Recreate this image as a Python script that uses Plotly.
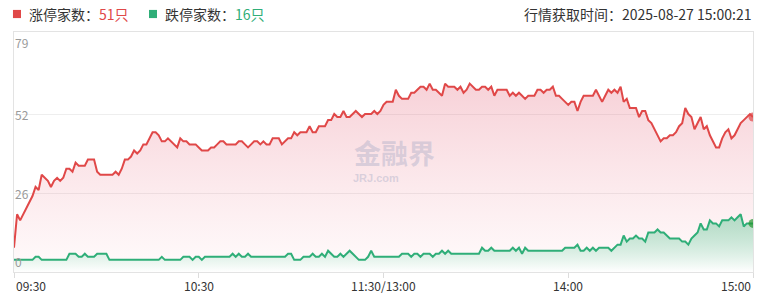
import plotly.graph_objects as go

# minutes since 09:30 (trading minutes, lunch break collapsed)
minutes = list(range(241))

limit_up = [
    8, 19, 17, 19, 21, 23, 25, 28, 27, 32,
    31, 30, 28, 30, 31, 30, 31, 34, 34, 33,
    36, 35, 35, 35, 37, 37, 37, 33, 32, 32,
    32, 32, 32, 33, 32, 34, 37, 37, 38, 40,
    39, 40, 42, 42, 44, 46, 46, 45, 43, 43,
    44, 43, 42, 41, 44, 43, 43, 42, 42, 42,
    41, 40, 40, 40, 41, 41, 42, 43, 43, 42,
    42, 42, 42, 43, 43, 42, 41, 42, 43, 43,
    42, 43, 42, 42, 44, 44, 44, 42, 43, 44,
    44, 46, 45, 46, 46, 46, 48, 46, 46, 48,
    48, 48, 50, 50, 52, 51, 51, 53, 51, 51,
    52, 53, 52, 51, 52, 52, 52, 53, 52, 53,
    55, 56, 56, 56, 60, 58, 57, 57, 57, 59,
    59, 60, 61, 61, 60, 62, 60, 60, 59, 58,
    62, 61, 61, 61, 60, 61, 59, 60, 62, 61,
    60, 60, 61, 61, 60, 61, 58, 60, 60, 60,
    60, 58, 59, 58, 59, 58, 57, 58, 58, 58,
    60, 60, 59, 60, 60, 61, 58, 58, 57, 56,
    55, 56, 56, 53, 56, 58, 58, 58, 58, 60,
    58, 56, 58, 60, 59, 60, 59, 61, 56, 57,
    54, 54, 54, 51, 53, 53, 50, 49, 47, 45,
    43, 44, 44, 45, 45, 46, 48, 49, 54, 52,
    51, 47, 49, 51, 47, 48, 45, 43, 41, 41,
    44, 46, 47, 44, 45, 47, 49, 50, 51, 52,
    51,
]

limit_down = [
    4, 4, 4, 4, 4, 4, 4, 5, 5, 4,
    4, 4, 4, 4, 4, 4, 4, 4, 6, 6,
    6, 5, 5, 6, 5, 5, 5, 6, 6, 6,
    6, 4, 4, 4, 4, 4, 4, 4, 4, 4,
    4, 4, 4, 4, 4, 4, 4, 4, 5, 4,
    4, 4, 4, 4, 4, 5, 5, 5, 4, 5,
    5, 4, 5, 5, 5, 5, 5, 5, 5, 5,
    5, 6, 5, 6, 5, 5, 6, 5, 5, 5,
    5, 5, 5, 5, 5, 5, 5, 5, 5, 6,
    6, 4, 4, 4, 5, 5, 5, 6, 5, 5,
    6, 5, 7, 6, 5, 5, 6, 5, 6, 7,
    6, 5, 4, 4, 4, 5, 7, 5, 5, 5,
    5, 5, 5, 5, 5, 5, 6, 6, 6, 5,
    6, 6, 5, 6, 6, 6, 5, 6, 6, 7,
    6, 7, 6, 6, 6, 6, 6, 6, 6, 6,
    6, 6, 8, 7, 7, 8, 7, 7, 7, 7,
    7, 7, 8, 7, 8, 6, 8, 7, 7, 7,
    7, 7, 7, 7, 7, 7, 7, 7, 7, 8,
    8, 8, 8, 9, 7, 7, 8, 7, 8, 7,
    8, 8, 8, 8, 7, 8, 9, 9, 12, 10,
    11, 11, 12, 11, 11, 10, 13, 13, 13, 14,
    13, 13, 12, 11, 11, 11, 11, 10, 10, 9,
    11, 12, 13, 16, 14, 14, 17, 16, 16, 15,
    17, 17, 17, 18, 17, 18, 19, 15, 16, 16,
    16,
]

x_tickvals = [0, 60, 120, 180, 240]
x_ticktext = ["09:30", "10:30", "11:30/13:00", "14:00", "15:00"]
y_tickvals = [0, 26, 52, 79]
y_ticktext = ["0", "26", "52", "79"]

up_count = 51
down_count = 16
fetch_time = "2025-08-27 15:00:21"

RED = "#e04848"
GREEN = "#2fae78"
FONT = "Noto Sans CJK SC"

n = len(minutes)
end_sizes = [0] * (n - 1) + [9]

fig = go.Figure()
fig.add_trace(go.Scatter(
    x=minutes, y=limit_up, mode="lines+markers",
    line=dict(color=RED, width=2),
    marker=dict(size=end_sizes, color=RED, line=dict(width=0)),
    fill="tozeroy",
    fillgradient=dict(type="vertical",
                      colorscale=[[0, "rgba(240,110,130,0.03)"],
                                  [1, "rgba(224,80,105,0.26)"]]),
    hoverinfo="skip", showlegend=False,
))
fig.add_trace(go.Scatter(
    x=minutes, y=limit_down, mode="lines+markers",
    line=dict(color=GREEN, width=2),
    marker=dict(size=end_sizes, color="#23962f", line=dict(width=0)),
    fill="tozeroy",
    fillgradient=dict(type="vertical",
                      colorscale=[[0, "rgba(255,255,255,0.9)"],
                                  [1, "rgba(120,200,160,0.55)"]]),
    hoverinfo="skip", showlegend=False,
))

annotations = []
# y-axis labels inside plot
for v, t in zip(y_tickvals, y_ticktext):
    if v == max(y_tickvals):
        anchor = "top"
    elif v == min(y_tickvals):
        anchor = "bottom"
    else:
        anchor = "middle"
    annotations.append(dict(x=0, y=v, xref="x", yref="y", text=t, showarrow=False,
                            xanchor="left", yanchor=anchor, xshift=-1,
                            font=dict(family=FONT, size=12, color="#9a9a9a")))
# x-axis labels
for i, (v, t) in enumerate(zip(x_tickvals, x_ticktext)):
    xa = "left" if i == 0 else ("right" if i == len(x_tickvals) - 1 else "center")
    annotations.append(dict(x=v, y=0, xref="x", yref="paper", text=t, showarrow=False,
                            xanchor=xa, yanchor="middle", yshift=-13,
                            font=dict(family=FONT, size=12, color="#333333")))
# header legend
hdr_font = dict(family=FONT, size=14, color="#333333")
annotations.append(dict(x=0.018, y=1.075, xref="paper", yref="paper", text=
                        f"<span style='color:#333'>涨停家数：</span><span style='color:{RED}'>{up_count}只</span>",
                        showarrow=False, xanchor="left", yanchor="middle", font=hdr_font))
annotations.append(dict(x=0.202, y=1.075, xref="paper", yref="paper", text=
                        f"<span style='color:#333'>跌停家数：</span><span style='color:{GREEN}'>{down_count}只</span>",
                        showarrow=False, xanchor="left", yanchor="middle", font=hdr_font))
annotations.append(dict(x=1.0, y=1.075, xref="paper", yref="paper",
                        text=f"行情获取时间：{fetch_time}",
                        showarrow=False, xanchor="right", yanchor="middle", font=hdr_font))
# watermark
annotations.append(dict(x=0.515, y=0.5, xref="paper", yref="paper", text="<b>金融界</b>",
                        showarrow=False, xanchor="center", yanchor="middle",
                        font=dict(family=FONT, size=27, color="rgba(175,175,200,0.45)")))
annotations.append(dict(x=0.49, y=0.39, xref="paper", yref="paper", text="<b>JRJ.com</b>",
                        showarrow=False, xanchor="center", yanchor="middle",
                        font=dict(family="Liberation Sans", size=11, color="rgba(175,175,200,0.45)")))

fig.update_layout(
    width=766, height=307,
    margin=dict(l=14, r=13, t=32, b=35),
    paper_bgcolor="white", plot_bgcolor="white",
    font=dict(family=FONT, size=13, color="#333333"),
    annotations=annotations,
    xaxis=dict(range=[0, 240], tickvals=x_tickvals, showticklabels=False,
               ticks="outside", ticklen=5, tickcolor="#dcdcdc",
               showgrid=False, zeroline=False,
               showline=True, linecolor="#e3e3e3", linewidth=1, mirror=True),
    yaxis=dict(range=[0, 79], tickvals=y_tickvals, showticklabels=False,
               showgrid=True, gridcolor="#eeeeee", gridwidth=1, zeroline=False,
               showline=True, linecolor="#e3e3e3", linewidth=1, mirror=True),
    showlegend=False,
    shapes=[
        dict(type="rect", xref="paper", yref="paper", x0=-0.0014, x1=0.0095,
             y0=1.058, y1=1.092, fillcolor=RED, line=dict(width=0)),
        dict(type="rect", xref="paper", yref="paper", x0=0.1827, x1=0.1935,
             y0=1.058, y1=1.092, fillcolor=GREEN, line=dict(width=0)),
    ],
)

fig.write_html("out.html")
